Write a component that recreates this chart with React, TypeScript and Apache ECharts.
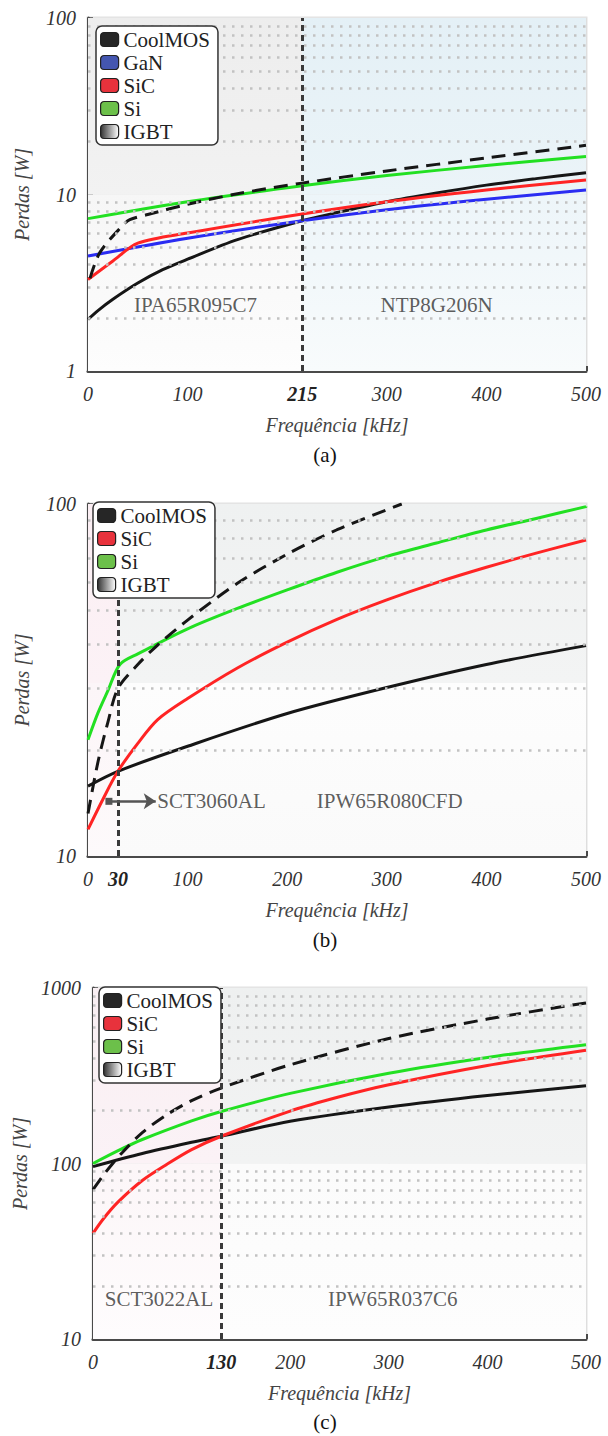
import React, { useEffect, useRef } from "react";
import * as echarts from "echarts";

const FONT = "Liberation Serif";

// ---------------- Panel (a) ----------------
const aXLabels = [0, 100, 215, 300, 400, 500];
const aYLabels = [1, 10, 100];
const aYTicks = [1, 2, 3, 4, 5, 6, 7, 8, 9, 10, 20, 30, 40, 50, 60, 70, 80, 90, 100];
const aMinor = [2, 3, 4, 5, 6, 7, 8, 9, 20, 30, 40, 50, 60, 70, 80, 90];
const aBoundary = 215;
const aCoolX = [0, 10, 25, 50, 75, 100, 150, 215, 250, 300, 350, 400, 450, 500];
const aCoolY = [1.96, 2.2, 2.55, 3.15, 3.75, 4.3, 5.55, 7.1, 7.9, 9.1, 10.2, 11.3, 12.3, 13.3];
const aGaNX = [0, 100, 215, 300, 400, 500];
const aGaNY = [4.48, 5.65, 7.1, 8.2, 9.4, 10.6];
const aSiCX = [0, 25, 50, 100, 215, 300, 400, 500];
const aSiCY = [3.3, 4.2, 5.3, 6.05, 7.75, 9.1, 10.6, 12.1];
const aSiX = [0, 100, 215, 300, 400, 500];
const aSiY = [7.3, 9.1, 11.2, 12.8, 14.6, 16.4];
const aIgbtX = [2, 12, 34, 42, 60, 100, 150, 215, 300, 400, 500];
const aIgbtY = [3.35, 4.7, 6.6, 7.2, 7.7, 8.8, 10.1, 11.6, 13.6, 16.1, 19.0];
const aDevices = ["IPA65R095C7", "NTP8G206N"];
const aDevicePos = [[108, 2.36], [350, 2.36]];
const aLegend = ["CoolMOS", "GaN", "SiC", "Si", "IGBT"];

// ---------------- Panel (b) ----------------
const bXLabels = [0, 30, 100, 200, 300, 400, 500];
const bYLabels = [10, 100];
const bYTicks = [10, 20, 30, 40, 50, 60, 70, 80, 90, 100];
const bMinor = [20, 30, 40, 50, 60, 70, 80, 90];
const bBoundary = 30;
const bCoolX = [0, 30, 100, 200, 300, 400, 500];
const bCoolY = [15.8, 17.4, 20.5, 25.4, 30.1, 35.0, 39.6];
const bSiCX = [0, 15, 30, 50, 70, 100, 150, 200, 250, 300, 350, 400, 450, 500];
const bSiCY = [11.9, 14.5, 17.4, 20.9, 24.4, 28.0, 34.2, 40.5, 47.0, 53.4, 59.8, 66.1, 72.5, 79.0];
const bSiX = [0, 10, 20, 32, 50, 100, 150, 200, 250, 300, 350, 400, 450, 500];
const bSiY = [21.4, 25.5, 29.5, 35.0, 37.5, 44.2, 50.5, 57.0, 64.0, 71.0, 77.5, 84.4, 91.0, 98.3];
const bIgbtX = [0, 10, 20, 30, 50, 68, 100, 150, 200, 250, 315];
const bIgbtY = [13.2, 18.5, 24.0, 29.9, 35.0, 39.3, 46.8, 59.5, 72.0, 84.5, 100];
const bDevices = ["SCT3060AL", "IPW65R080CFD"];
const bDevicePos = [[124, 14.3], [303, 14.3]];
const bArrow = [[21, 14.3], [68, 14.3]];
const bLegend = ["CoolMOS", "SiC", "Si", "IGBT"];

// ---------------- Panel (c) ----------------
const cXLabels = [0, 130, 200, 300, 400, 500];
const cYLabels = [10, 100, 1000];
const cYTicks = [10, 20, 30, 40, 50, 60, 70, 80, 90, 100, 200, 300, 400, 500, 600, 700, 800, 900, 1000];
const cMinor = [20, 30, 40, 50, 60, 70, 80, 90, 200, 300, 400, 500, 600, 700, 800, 900];
const cBoundary = 130;
const cCoolX = [0, 50, 100, 130, 200, 300, 400, 500];
const cCoolY = [96, 114, 132, 143, 174, 210, 244, 277];
const cSiCX = [0, 10, 25, 50, 75, 100, 130, 200, 250, 300, 400, 500];
const cSiCY = [40, 48, 60, 80, 99, 120, 143, 199, 240, 281, 362, 442];
const cSiX = [0, 25, 50, 100, 130, 200, 300, 400, 500];
const cSiY = [100, 118, 137, 175, 198, 251, 327, 402, 475];
const cIgbtX = [0, 10, 20, 30, 50, 75, 100, 130, 200, 300, 400, 500];
const cIgbtY = [71, 85, 100, 116, 150, 190, 228, 269, 365, 515, 665, 822];
const cDevices = ["SCT3022AL", "IPW65R037C6"];
const cDevicePos = [[67, 16.8], [304, 16.8]];
const cLegend = ["CoolMOS", "SiC", "Si", "IGBT"];

const captions = ["(a)", "(b)", "(c)"];

const LINE_COLORS: Record<string, string> = {
  CoolMOS: "#161616",
  GaN: "#2a2cf2",
  SiC: "#ff2424",
  Si: "#22e022",
  IGBT: "#161616",
};
const SWATCH_COLORS: Record<string, any> = {
  CoolMOS: "#262626",
  GaN: "#4456b0",
  SiC: "#e8323c",
  Si: "#6cc04a",
  IGBT: {
    type: "linear", x: 0, y: 0, x2: 1, y2: 0,
    colorStops: [{ offset: 0, color: "#333" }, { offset: 1, color: "#fff" }],
  },
};

const vgrad = (top: string, bottom: string) => ({
  type: "linear", x: 0, y: 0, x2: 0, y2: 1,
  colorStops: [{ offset: 0, color: top }, { offset: 1, color: bottom }],
});

function pairs(xs: number[], ys: number[]) {
  return xs.map((x, i) => [x, ys[i]]);
}

type PanelCfg = {
  grid: any;
  yMin: number; yMax: number; ySplit: number;
  xLabels: number[]; special: number;
  yLabels: number[]; yTicks: number[]; minor: number[];
  boundary: number;
  curves: { name: string; xs: number[]; ys: number[] }[];
  devices: string[]; devicePos: number[][];
  bg: any[];
  yNameGap: number;
  arrow?: number[][];
};

function buildPanel(i: number, p: PanelCfg) {
  const axisColor = "#4a4a4a";
  const grid = { ...p.grid, show: true, backgroundColor: "#fafafa", borderColor: "#e2e2e2", borderWidth: 3 };
  const xAxis = {
    type: "value", gridIndex: i, min: 0, max: 500, interval: 100,
    name: "Frequência [kHz]", nameLocation: "middle", nameGap: 44,
    nameTextStyle: { fontFamily: FONT, fontStyle: "italic", fontSize: 20, color: "#444" },
    axisLine: { show: true, lineStyle: { color: axisColor, width: 3 } },
    axisTick: { show: true, inside: true, length: 5, lineStyle: { color: axisColor, width: 3 } },
    splitLine: { show: true, lineStyle: { color: "#dedede", width: 2 } },
    axisLabel: {
      customValues: p.xLabels,
      margin: 13,
      fontFamily: FONT, fontStyle: "italic", fontSize: 20, color: "#333",
      formatter: (v: number) => (v === p.special ? "{b|" + v + "}" : String(v)),
      rich: { b: { fontFamily: FONT, fontStyle: "italic", fontWeight: "bold", fontSize: 20, color: "#222" } },
    },
  };
  const yAxis = {
    type: "log", logBase: 10, gridIndex: i, min: p.yMin, max: p.yMax, splitNumber: p.ySplit,
    name: "Perdas [W]", nameLocation: "middle", nameGap: p.yNameGap,
    nameTextStyle: { fontFamily: FONT, fontStyle: "italic", fontSize: 20, color: "#444" },
    axisLine: { show: true, lineStyle: { color: axisColor, width: 3 } },
    axisTick: { show: true, inside: true, length: 5, customValues: p.yTicks, lineStyle: { color: axisColor, width: 2.5 } },
    splitLine: { show: true, lineStyle: { color: "#e4e4e4", width: 3 } },
    minorTick: { show: false },
    axisLabel: {
      customValues: p.yLabels, margin: 12,
      fontFamily: FONT, fontStyle: "italic", fontSize: 20, color: "#333",
      formatter: (v: number) => String(Math.round(v)),
    },
  };
  const series: any[] = [];
  series.push({
    type: "line", xAxisIndex: i, yAxisIndex: i, data: [], z: -1, silent: true,
    markArea: { silent: true, data: p.bg },
  });
  series.push({
    type: "line", xAxisIndex: i, yAxisIndex: i, data: [], z: 1, silent: true,
    markLine: {
      silent: true, symbol: ["none", "none"], animation: false,
      label: { show: false },
      lineStyle: { color: "#c2c2c2", width: 2.5, type: [2.5, 6.5] },
      data: p.minor.map((v) => ({ yAxis: v })),
    },
  });
  series.push({
    type: "line", xAxisIndex: i, yAxisIndex: i, data: [], z: 4, silent: true,
    markLine: {
      silent: true, symbol: ["none", "none"], animation: false,
      label: { show: false },
      lineStyle: { color: "#3a3a3a", width: 3, type: [6, 4] },
      data: [{ xAxis: p.boundary }],
    },
  });
  p.curves.forEach((c) => {
    series.push({
      type: "line", name: c.name, xAxisIndex: i, yAxisIndex: i,
      data: pairs(c.xs, c.ys), showSymbol: false, symbol: "none", clip: true,
      smooth: 0.3,
      itemStyle: { color: LINE_COLORS[c.name] },
      lineStyle: { color: LINE_COLORS[c.name], width: 3, type: c.name === "IGBT" ? [14, 8] : "solid" },
      z: c.name === "IGBT" ? 3 : 2,
    });
  });
  series.push({
    type: "scatter", xAxisIndex: i, yAxisIndex: i, symbolSize: 1, silent: true, z: 5,
    itemStyle: { color: "rgba(0,0,0,0)" },
    data: p.devices.map((d, k) => ({ name: d, value: p.devicePos[k] })),
    label: { show: true, position: "inside", formatter: "{b}", fontFamily: FONT, fontSize: 21, color: "#333" },
  });
  if (p.arrow) {
    series.push({
      type: "line", xAxisIndex: i, yAxisIndex: i, data: [], z: 5, silent: true,
      markLine: {
        silent: true, animation: false, label: { show: false },
        lineStyle: { color: "#555", width: 2.5, type: "solid" },
        data: [[
          { coord: p.arrow[0], symbol: "rect", symbolSize: 7 },
          { coord: p.arrow[1], symbol: "arrow", symbolSize: 12 },
        ]],
      },
    });
  }
  return { grid, xAxis, yAxis, series };
}

function makeLegend(left: number, top: number, names: string[]) {
  return {
    orient: "vertical", left, top, z: 10, selectedMode: false,
    itemWidth: 18, itemHeight: 14, itemGap: 2,
    padding: [3, 8, 3, 4],
    backgroundColor: "#ffffff", borderColor: "#333", borderWidth: 1.5, borderRadius: 6,
    textStyle: { fontFamily: FONT, fontSize: 21, color: "#222", lineHeight: 21 },
    data: names.map((n) => ({
      name: n, icon: "roundRect",
      itemStyle: { color: SWATCH_COLORS[n], borderColor: "#222", borderWidth: 1.2, borderType: "solid" },
      lineStyle: { width: 0 },
    })),
  };
}

function makeCaption(text: string, top: number) {
  return {
    text, left: 325, top, textAlign: "center", padding: 0,
    textStyle: { fontFamily: FONT, fontSize: 21, fontWeight: "normal", color: "#111" },
  };
}

export default function App() {
  const ref = useRef<HTMLDivElement>(null);
  useEffect(() => {
    if (!ref.current) return;
    const chart = echarts.init(ref.current, undefined, { renderer: "svg" });

    const pa = buildPanel(0, {
      grid: { left: 88, top: 18, width: 498, height: 353 },
      yMin: 1, yMax: 100, ySplit: 2,
      xLabels: aXLabels, special: 215, yLabels: aYLabels, yTicks: aYTicks, minor: aMinor,
      boundary: aBoundary, yNameGap: 56,
      curves: [
        { name: "CoolMOS", xs: aCoolX, ys: aCoolY },
        { name: "GaN", xs: aGaNX, ys: aGaNY },
        { name: "SiC", xs: aSiCX, ys: aSiCY },
        { name: "Si", xs: aSiX, ys: aSiY },
        { name: "IGBT", xs: aIgbtX, ys: aIgbtY },
      ],
      devices: aDevices, devicePos: aDevicePos,
      bg: [
        [{ xAxis: 0, yAxis: 10, itemStyle: { color: vgrad("#ededed", "#f2f2f2") } }, { xAxis: aBoundary, yAxis: 100 }],
        [{ xAxis: 0, yAxis: 1, itemStyle: { color: vgrad("#f6f6f6", "#fdfdfd") } }, { xAxis: aBoundary, yAxis: 10 }],
        [{ xAxis: aBoundary, yAxis: 10, itemStyle: { color: vgrad("#e4f0f6", "#ebf4f8") } }, { xAxis: 500, yAxis: 100 }],
        [{ xAxis: aBoundary, yAxis: 1, itemStyle: { color: vgrad("#edf5f9", "#f8fbfc") } }, { xAxis: 500, yAxis: 10 }],
      ],
    });
    const pb = buildPanel(1, {
      grid: { left: 88, top: 504, width: 498, height: 352 },
      yMin: 10, yMax: 100, ySplit: 1,
      xLabels: bXLabels, special: 30, yLabels: bYLabels, yTicks: bYTicks, minor: bMinor,
      boundary: bBoundary, yNameGap: 56, arrow: bArrow,
      curves: [
        { name: "CoolMOS", xs: bCoolX, ys: bCoolY },
        { name: "SiC", xs: bSiCX, ys: bSiCY },
        { name: "Si", xs: bSiX, ys: bSiY },
        { name: "IGBT", xs: bIgbtX, ys: bIgbtY },
      ],
      devices: bDevices, devicePos: bDevicePos,
      bg: [
        [{ xAxis: 0, yAxis: 31, itemStyle: { color: vgrad("#fbeef3", "#fcf2f6") } }, { xAxis: bBoundary, yAxis: 100 }],
        [{ xAxis: 0, yAxis: 10, itemStyle: { color: vgrad("#fcf5f8", "#fdfafb") } }, { xAxis: bBoundary, yAxis: 31 }],
        [{ xAxis: bBoundary, yAxis: 31, itemStyle: { color: vgrad("#eff1f1", "#f3f4f4") } }, { xAxis: 500, yAxis: 100 }],
        [{ xAxis: bBoundary, yAxis: 10, itemStyle: { color: vgrad("#fdfdfd", "#fafafa") } }, { xAxis: 500, yAxis: 31 }],
      ],
    });
    const pc = buildPanel(2, {
      grid: { left: 93, top: 988, width: 493, height: 351 },
      yMin: 10, yMax: 1000, ySplit: 2,
      xLabels: cXLabels, special: 130, yLabels: cYLabels, yTicks: cYTicks, minor: cMinor,
      boundary: cBoundary, yNameGap: 62,
      curves: [
        { name: "CoolMOS", xs: cCoolX, ys: cCoolY },
        { name: "SiC", xs: cSiCX, ys: cSiCY },
        { name: "Si", xs: cSiX, ys: cSiY },
        { name: "IGBT", xs: cIgbtX, ys: cIgbtY },
      ],
      devices: cDevices, devicePos: cDevicePos,
      bg: [
        [{ xAxis: 0, yAxis: 100, itemStyle: { color: vgrad("#f9eff3", "#fbf2f6") } }, { xAxis: cBoundary, yAxis: 1000 }],
        [{ xAxis: 0, yAxis: 10, itemStyle: { color: vgrad("#fcf6f8", "#fefcfd") } }, { xAxis: cBoundary, yAxis: 100 }],
        [{ xAxis: cBoundary, yAxis: 100, itemStyle: { color: vgrad("#eef0f0", "#f2f3f3") } }, { xAxis: 500, yAxis: 1000 }],
        [{ xAxis: cBoundary, yAxis: 10, itemStyle: { color: vgrad("#fbfbfb", "#fdfdfd") } }, { xAxis: 500, yAxis: 100 }],
      ],
    });

    const option: any = {
      animation: false,
      backgroundColor: "#ffffff",
      textStyle: { fontFamily: FONT },
      title: [makeCaption(captions[0], 444), makeCaption(captions[1], 929), makeCaption(captions[2], 1411)],
      legend: [makeLegend(96, 26, aLegend), makeLegend(93, 502, bLegend), makeLegend(99, 987, cLegend)],
      grid: [pa.grid, pb.grid, pc.grid],
      xAxis: [pa.xAxis, pb.xAxis, pc.xAxis],
      yAxis: [pa.yAxis, pb.yAxis, pc.yAxis],
      series: [...pa.series, ...pb.series, ...pc.series],
    };
    chart.setOption(option);
    return () => chart.dispose();
  }, []);
  return (
    <div
      ref={ref}
      style={{ position: "absolute", left: 0, top: 0, width: 608, height: 1436, background: "#fff" }}
    />
  );
}
